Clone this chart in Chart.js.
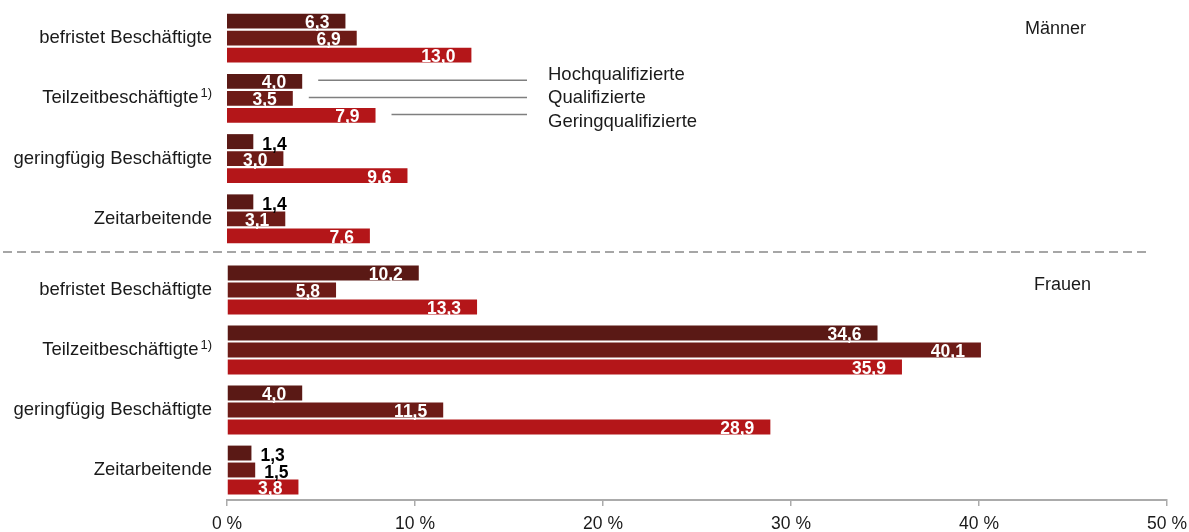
<!DOCTYPE html>
<html lang="de">
<head>
<meta charset="utf-8">
<title>Atypische Beschäftigung nach Qualifikation</title>
<script src="https://cdn.jsdelivr.net/npm/chart.js@4.4.1/dist/chart.umd.min.js"></script>
<style>
  html, body { margin: 0; padding: 0; background: #fff; overflow: hidden; }
  #wrap { position: relative; width: 1189px; height: 532px; overflow: hidden; }
  #wrap canvas { position: absolute; left: 0; }
  #men { top: 0; }
  #women { top: 254px; }
</style>
</head>
<body>
<div id="wrap">
  <canvas id="men" width="1189" height="254"></canvas>
  <canvas id="women" width="1195" height="289"></canvas>
</div>
<script>
// categories + footnote markers
const categories = ['befristet Beschäftigte', 'Teilzeitbeschäftigte', 'geringfügig Beschäftigte', 'Zeitarbeitende'];
const footnotes = ['', '1)', '', ''];
const seriesNames = ['Hochqualifizierte', 'Qualifizierte', 'Geringqualifizierte'];
const seriesColors = ['#5a1915', '#6d1b17', '#b41619'];

// Männer
const menHigh = [6.3, 4.0, 1.4, 1.4];
const menMid = [6.9, 3.5, 3.0, 3.1];
const menLow = [13.0, 7.9, 9.6, 7.6];

// Frauen
const womenHigh = [10.2, 34.6, 4.0, 1.3];
const womenMid = [5.8, 40.1, 11.5, 1.5];
const womenLow = [13.3, 35.9, 28.9, 3.8];

const xTicks = [0, 10, 20, 30, 40, 50];

const FONT = '"Liberation Sans", Arial, Helvetica, sans-serif';
const TEXT = '#1a1a1a';

/* =============================================================*/
// plugins

// category names on the left (drawn by hand so the footnote can be raised)
const categoryLabels = {
  id: 'categoryLabels',
  afterDraw(chart) {
    const ctx = chart.ctx;
    const yScale = chart.scales.y;
    ctx.save();
    ctx.fillStyle = TEXT;
    ctx.textBaseline = 'middle';
    ctx.textAlign = 'right';
    categories.forEach((name, i) => {
      const py = yScale.getPixelForValue(i);
      let right = 212;
      if (footnotes[i]) {
        ctx.font = '13px ' + FONT;
        const w = ctx.measureText(footnotes[i]).width;
        ctx.fillText(footnotes[i], right, py - 5);
        right -= w + 2;
      }
      ctx.font = '18.5px ' + FONT;
      ctx.fillText(name, right, py);
    });
    ctx.restore();
  }
};

// numbers on the bars, white inside, black behind the short ones
const valueLabels = {
  id: 'valueLabels',
  afterDatasetsDraw(chart) {
    const ctx = chart.ctx;
    ctx.save();
    ctx.font = 'bold 17.5px ' + FONT;
    ctx.textBaseline = 'alphabetic';
    chart.data.datasets.forEach((ds, d) => {
      chart.getDatasetMeta(d).data.forEach((bar, i) => {
        const v = ds.data[i];
        const txt = v.toFixed(1).replace('.', ',');
        if (v >= 2) {
          ctx.fillStyle = '#ffffff';
          ctx.textAlign = 'right';
          ctx.fillText(txt, bar.x - 16, bar.y + 7);
        } else {
          ctx.fillStyle = '#000000';
          ctx.textAlign = 'left';
          ctx.fillText(txt, bar.x + 9, bar.y + 8);
        }
      });
    });
    ctx.restore();
  }
};

// legend as callout lines from the Teilzeit bars (Männer panel)
const legendCallouts = {
  id: 'legendCallouts',
  afterDatasetsDraw(chart) {
    const ctx = chart.ctx;
    const idx = 1;
    const midY = chart.getDatasetMeta(1).data[idx].y;
    ctx.save();
    chart.data.datasets.forEach((ds, d) => {
      const bar = chart.getDatasetMeta(d).data[idx];
      ctx.strokeStyle = '#7f7f7f';
      ctx.lineWidth = 1.5;
      ctx.beginPath();
      ctx.moveTo(bar.x + 16, bar.y - 1);
      ctx.lineTo(527, bar.y - 1);
      ctx.stroke();
      ctx.fillStyle = TEXT;
      ctx.font = '18.5px ' + FONT;
      ctx.textAlign = 'left';
      ctx.textBaseline = 'middle';
      ctx.fillText(ds.label, 548, midY + (d - 1) * 23.5);
    });
    ctx.restore();
  }
};

// group title + separator
function groupTitle(text, x, y, dashed) {
  return {
    id: 'groupTitle',
    afterDraw(chart) {
      const ctx = chart.ctx;
      ctx.save();
      ctx.fillStyle = TEXT;
      ctx.font = '18px ' + FONT;
      ctx.textAlign = 'left';
      ctx.textBaseline = 'middle';
      ctx.fillText(text, x, y);
      if (dashed) {
        ctx.strokeStyle = '#a6a6a6';
        ctx.lineWidth = 2;
        ctx.setLineDash([9, 5]);
        ctx.beginPath();
        ctx.moveTo(3, chart.height - 2);
        ctx.lineTo(1148, chart.height - 2);
        ctx.stroke();
      }
      ctx.restore();
    }
  };
}

/* =============================================================*/
// build one panel
function createPanel(canvasId, high, mid, low, showAxis, padding, extraPlugins) {
  const values = [high, mid, low];
  return new Chart(canvasId, {
    type: 'bar',
    data: {
      labels: categories,
      datasets: values.map((data, d) => ({
        label: seriesNames[d],
        data: data,
        backgroundColor: seriesColors[d],
        categoryPercentage: 0.847,
        barPercentage: 0.88
      }))
    },
    options: {
      indexAxis: 'y',
      responsive: false,
      devicePixelRatio: 1,
      animation: false,
      layout: { padding: padding },
      plugins: {
        legend: { display: false },
        tooltip: { enabled: false }
      },
      scales: {
        x: {
          display: showAxis,
          min: 0,
          max: 50,
          afterBuildTicks: (scale) => { scale.ticks = xTicks.map(v => ({ value: v })); },
          ticks: {
            padding: 8,
            color: TEXT,
            font: { family: FONT, size: 17.5 },
            callback: (v) => v + ' %'
          },
          grid: { drawOnChartArea: false, drawTicks: true, tickLength: 6, color: '#ababab', lineWidth: 1.5 },
          border: { display: true, color: '#ababab', width: 2 }
        },
        y: {
          ticks: { display: false },
          grid: { display: false },
          border: { display: false },
          afterFit: (scale) => { scale.width = 227; }
        }
      }
    },
    plugins: [categoryLabels, valueLabels].concat(extraPlugins)
  });
}

createPanel('men', menHigh, menMid, menLow, false,
  { top: 8, bottom: 5, left: 0, right: 22 },
  [legendCallouts, groupTitle('Männer', 1025, 29, true)]);

createPanel('women', womenHigh, womenMid, womenLow, true,
  { top: 6, bottom: 0, left: 0, right: 22 },
  [groupTitle('Frauen', 1034, 31, false)]);
</script>
</body>
</html>
